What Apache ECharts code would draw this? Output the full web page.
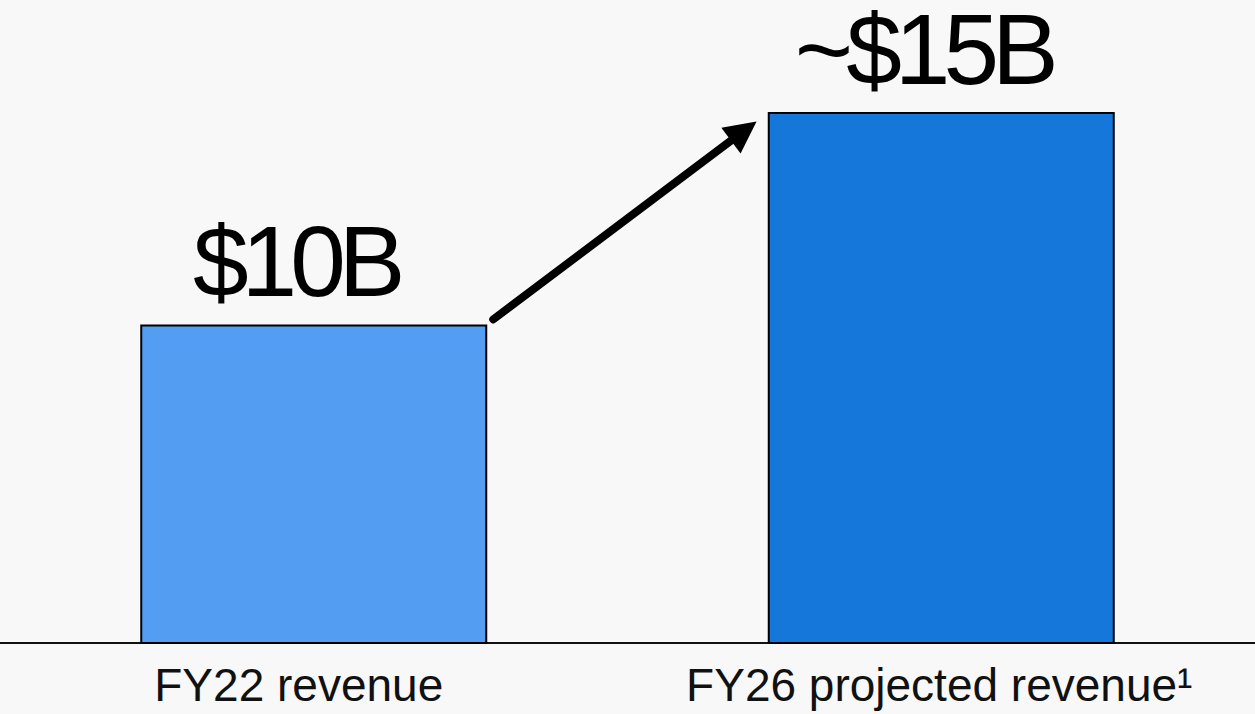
<!DOCTYPE html>
<html>
<head>
<meta charset="utf-8">
<script src="https://cdn.jsdelivr.net/npm/echarts@6/dist/echarts.min.js"></script>
<style>
  html, body { margin: 0; padding: 0; background: #f8f8f8; }
  #chart { width: 1255px; height: 714px; }
  /* big value labels are tightly tracked in the original */
  #chart text[style*="100px"] { letter-spacing: -7px; }
</style>
</head>
<body>
<div id="chart"></div>
<script>
// data
var categories = ['FY22 revenue', 'FY26 projected revenue¹']
var revenue = [10, 15]
var valueLabels = ['$10B', '~$15B']
var barColors = ['#539ef3', '#1677da']

var myChart = echarts.init(document.getElementById('chart'), null, { renderer: 'svg' })
var BAR_W = 347

var option = {
  backgroundColor: '#f8f8f8',
  animation: false,
  grid: { left: 0, right: 0, top: 112, bottom: 71 },
  xAxis: {
    type: 'category',
    data: categories.map(function (c, i) {
      // first label sits a little left of its bar centre in the original
      return { value: c, textStyle: { padding: i === 0 ? [0, 30, 0, 0] : [0, 4, 0, 0] } }
    }),
    axisTick: { show: false },
    axisLine: { lineStyle: { color: '#111', width: 2 } },
    axisLabel: {
      interval: 0,
      margin: 19,
      color: '#111',
      fontSize: 46,
      fontFamily: "'Liberation Sans', Arial, sans-serif"
    }
  },
  yAxis: {
    type: 'value',
    min: 2.5,
    max: 15,
    show: false,
    splitLine: { show: false }
  },
  series: [
    {
      type: 'bar',
      barWidth: BAR_W,
      data: revenue.map(function (v, i) {
        return { value: v, itemStyle: { color: barColors[i] } }
      }),
      itemStyle: { borderColor: '#000', borderWidth: 2 },
      label: {
        show: true,
        position: 'top',
        distance: 25,
        offset: [-18, 0],
        color: '#000',
        fontSize: 100,
        lineHeight: 76,
        fontFamily: "'Liberation Sans', Arial, sans-serif",
        formatter: function (p) { return valueLabels[p.dataIndex] }
      }
    }
  ]
}
myChart.setOption(option)

// arrow from the top-right of the first bar to the top-left of the second
var p0 = myChart.convertToPixel({ seriesIndex: 0 }, [0, revenue[0]])
var p1 = myChart.convertToPixel({ seriesIndex: 0 }, [1, revenue[1]])
var start = { x: p0[0] + BAR_W / 2 + 6, y: p0[1] - 5 }
var end = { x: p1[0] - BAR_W / 2 - 24, y: p1[1] + 19 }
myChart.setOption({
  series: [{
    markLine: {
      silent: true,
      symbol: ['none', 'triangle'],
      symbolSize: [32, 32],
      label: { show: false },
      lineStyle: { color: '#000', width: 8, type: 'solid', cap: 'round' },
      data: [[start, end]]
    }
  }]
})
</script>
</body>
</html>
